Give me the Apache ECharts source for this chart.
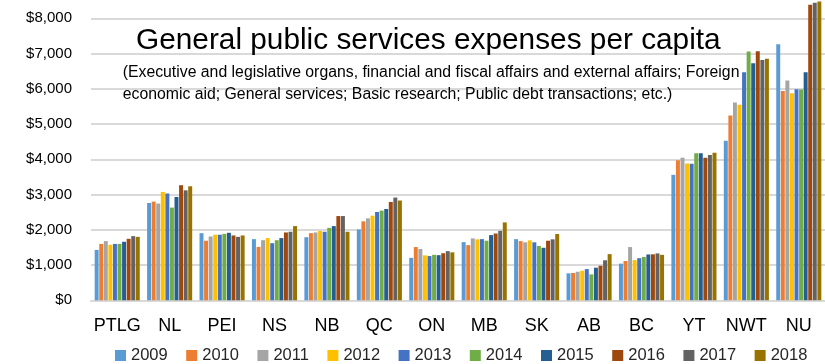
<!DOCTYPE html>
<html>
<head>
<meta charset="utf-8">
<script src="https://cdn.jsdelivr.net/npm/echarts@6/dist/echarts.min.js"></script>
<style>
  html, body { margin: 0; padding: 0; background: #ffffff; }
  #chart { width: 825px; height: 364px; }
</style>
</head>
<body>
<div id="chart"></div>
<script>
const categories = ['PTLG','NL','PEI','NS','NB','QC','ON','MB','SK','AB','BC','YT','NWT','NU'];
const years = ['2009','2010','2011','2012','2013','2014','2015','2016','2017','2018'];
const y2009 = [1430,2760,1905,1735,1790,2010,1205,1650,1735,765,1040,3560,4525,7265];
const y2010 = [1600,2800,1690,1515,1905,2240,1510,1565,1680,775,1115,3970,5240,5940];
const y2011 = [1680,2745,1810,1705,1925,2325,1455,1755,1645,810,1510,4045,5610,6235];
const y2012 = [1575,3075,1860,1765,1965,2400,1275,1730,1700,840,1140,3880,5545,5875];
const y2013 = [1600,3030,1860,1620,1945,2505,1255,1735,1645,885,1195,3875,6470,5990];
const y2014 = [1600,2630,1885,1705,2055,2545,1290,1690,1540,735,1230,4170,7055,5980];
const y2015 = [1660,2930,1915,1765,2105,2590,1280,1850,1490,925,1300,4170,6725,6470];
const y2016 = [1745,3265,1840,1925,2390,2790,1335,1895,1690,980,1305,4045,7065,8385];
const y2017 = [1820,3120,1800,1945,2390,2915,1395,1970,1730,1135,1330,4125,6820,8440];
const y2018 = [1800,3235,1840,2105,1945,2830,1360,2210,1880,1310,1290,4185,6855,8480];
const seriesValues = [y2009,y2010,y2011,y2012,y2013,y2014,y2015,y2016,y2017,y2018];
const colors = ['#5B9BD5','#ED7D31','#A5A5A5','#FFC000','#4472C4','#70AD47','#255E91','#9E480E','#636363','#997300'];
const titleText = 'General public services expenses per capita';
const subtitleLine1 = '(Executive and legislative organs, financial and fiscal affairs and external affairs; Foreign';
const subtitleLine2 = 'economic aid; General services; Basic research; Public debt transactions; etc.)';

const FONT = '"Liberation Sans", Arial, sans-serif';
const chart = echarts.init(document.getElementById('chart'), null, { renderer: 'canvas' });
chart.setOption({
  animation: false,
  backgroundColor: '#ffffff',
  color: colors,
  textStyle: { fontFamily: FONT },
  grid: { left: 91, top: 18.3, width: 738, height: 282, containLabel: false },
  legend: {
    data: years,
    left: 110,
    top: 342,
    itemWidth: 11,
    itemHeight: 11,
    itemGap: 18.5,
    icon: 'rect',
    textStyle: { fontFamily: FONT, fontSize: 16.5, color: '#262626', padding: [0,0,0,0] }
  },
  xAxis: {
    type: 'category',
    data: categories,
    axisLine: { lineStyle: { color: '#D9D9D9', width: 2 } },
    axisTick: { show: false },
    axisLabel: { fontFamily: FONT, fontSize: 18, color: '#000000', margin: 17, interval: 0 }
  },
  yAxis: {
    type: 'value',
    min: 0,
    max: 8000,
    interval: 1000,
    axisLine: { show: false },
    axisTick: { show: false },
    splitLine: { lineStyle: { color: '#D9D9D9', width: 2 } },
    axisLabel: {
      fontFamily: FONT, fontSize: 15, color: '#000000', margin: 19,
      formatter: v => '$' + v.toLocaleString('en-US')
    }
  },
  series: years.map((yr, i) => ({
    name: yr,
    type: 'bar',
    data: seriesValues[i],
    clip: false,
    barGap: '15%',
    barCategoryGap: '14%',
    itemStyle: { color: colors[i] }
  })),
  graphic: [
    { type: 'text', left: 136, top: 26, z: 10,
      style: { text: titleText, font: '29.8px "Liberation Sans", Arial, sans-serif', fill: '#000000' } },
    { type: 'text', left: 122.7, top: 65, z: 10,
      style: { text: subtitleLine1, font: '15.8px "Liberation Sans", Arial, sans-serif', fill: '#000000' } },
    { type: 'text', left: 122.7, top: 87, z: 10,
      style: { text: subtitleLine2, font: '15.8px "Liberation Sans", Arial, sans-serif', fill: '#000000' } }
  ]
});
</script>
</body>
</html>
